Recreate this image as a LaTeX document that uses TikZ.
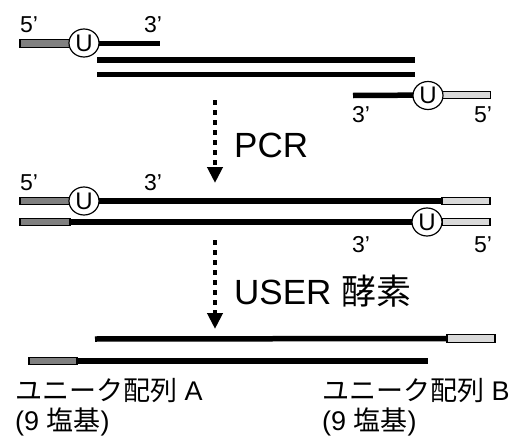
\documentclass[tikz,border=0pt]{standalone}
\usepackage{fontspec}
\setmainfont{Liberation Sans}
\newfontfamily\jp{Noto Sans CJK JP}
\usetikzlibrary{arrows.meta,shapes.geometric}
\definecolor{darkg}{RGB}{128,128,128}
\definecolor{lightg}{RGB}{217,217,217}
\tikzset{
  strand/.style={line width=5.5pt},
  uu/.style={ellipse,draw,line width=1.2pt,fill=white,minimum width=30pt,minimum height=28pt,inner sep=0pt,font=\fontsize{24}{24}\selectfont},
  darkbox/.style={draw,line width=1.2pt,fill=darkg,minimum height=7.5pt,inner sep=0pt},
  lightbox/.style={draw,line width=1.2pt,fill=lightg,minimum height=7.5pt,inner sep=0pt},
  endlab/.style={anchor=base west,inner sep=0pt,font=\fontsize{23}{23}\selectfont},
  biglab/.style={anchor=west,inner sep=0pt,font=\fontsize{35}{35}\selectfont},
  caplab/.style={anchor=base west,inner sep=0pt,font=\fontsize{27}{27}\selectfont},
  dotarrow/.style={line width=4.5pt,dash pattern=on 5pt off 5pt,-{Triangle[width=15pt,length=16pt]}},
}
\begin{document}
\begin{tikzpicture}[x=1pt,y=-1pt]
\useasboundingbox (0,0) rectangle (515,442);
% ---------- top ----------
\node[darkbox,minimum width=50pt] (r1) at (45,43.5) {};
\coordinate (e1) at (160,43.5);
\draw[strand] (r1.east) -- (e1);
\node[uu] (u1) at (84,43) {U};
\node[endlab] (t5a) at (20,32) {5’};
\node[endlab] (t3a) at (144,32) {3’};
\coordinate (l1a) at (97,60);
\coordinate (l1b) at (415,60);
\coordinate (l2a) at (97,74.5);
\coordinate (l2b) at (415,74.5);
\draw[strand] (l1a) -- (l1b);
\draw[strand] (l2a) -- (l2b);
\coordinate (e2) at (353,95.5);
\node[lightbox,minimum width=48pt] (r2) at (466.5,95) {};
\draw[strand] (e2) -- (r2.west);
\node[uu] (u2) at (428,95.5) {U};
\node[endlab] (t3b) at (352,122) {3’};
\node[endlab] (t5b) at (474,122) {5’};
% ---------- PCR arrow ----------
\coordinate (a1s) at (215,100);
\coordinate (a1e) at (215,183);
\draw[dotarrow] (a1s) -- (a1e);
\node[biglab] (pcr) at (234,145) {PCR};
% ---------- middle ----------
\node[darkbox,minimum width=50pt] (r3) at (45,201) {};
\node[lightbox,minimum width=48pt] (r4) at (466,201) {};
\draw[strand] (r3.east) -- (r4.west);
\node[uu] (u3) at (84,201) {U};
\node[endlab] (t5c) at (20,190) {5’};
\node[endlab] (t3c) at (144,190) {3’};
\node[darkbox,minimum width=50pt] (r5) at (45,222) {};
\node[lightbox,minimum width=48pt] (r6) at (466,222) {};
\draw[strand] (r5.east) -- (r6.west);
\node[uu] (u4) at (427,222) {U};
\node[endlab] (t3d) at (352,252) {3’};
\node[endlab] (t5d) at (474,252) {5’};
% ---------- USER arrow ----------
\coordinate (a2s) at (215,240);
\coordinate (a2e) at (215,329);
\draw[dotarrow] (a2s) -- (a2e);
\node[biglab] (user) at (234,291) {USER {\jp 酵素}};
% ---------- bottom ----------
\coordinate (b1) at (95,339);
\node[lightbox,minimum width=48pt] (r7) at (471,338.5) {};
\draw[strand] (b1) -- (r7.west);
\node[darkbox,minimum width=48pt] (r8) at (53,361) {};
\coordinate (b2) at (428,361);
\draw[strand] (r8.east) -- (b2);
\node[caplab] (ca1) at (15,400) {{\jp ユニーク配列} A};
\node[caplab] (ca2) at (15,430) {(9 {\jp 塩基})};
\node[caplab] (cb1) at (322,400) {{\jp ユニーク配列} B};
\node[caplab] (cb2) at (322,430) {(9 {\jp 塩基})};
\end{tikzpicture}
\end{document}
